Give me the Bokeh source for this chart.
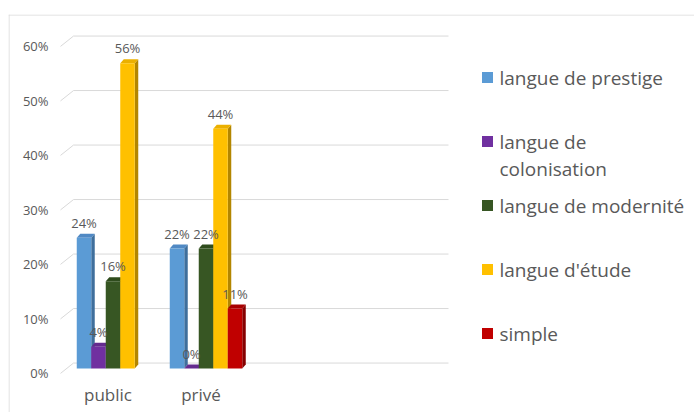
import textwrap
from bokeh.plotting import figure
from bokeh.models import Range1d, Span
from bokeh.core.properties import value
from bokeh.embed import file_html
from bokeh.resources import INLINE

# ---------------- data ----------------
categories = ["public", "privé", "", ""]
series_names = ["langue de prestige", "langue de colonisation",
                "langue de modernité", "langue d'étude", "simple"]
prestige = [24, 22]
colonisation = [4, 0]
modernite = [16, 22]
etude = [56, 44]
simple = [None, 11]
y_ticks = [0, 10, 20, 30, 40, 50, 60]
y_tick_labels = ["0%", "10%", "20%", "30%", "40%", "50%", "60%"]

series_values = [prestige, colonisation, modernite, etude, simple]
front_colors = ["#5B9BD5", "#7030A0", "#375623", "#FFC000", "#C00000"]
side_colors = ["#3F6F9C", "#4E2272", "#243A16", "#B38600", "#860000"]
top_colors = ["#5089C4", "#642B8F", "#2F4C1D", "#EBB000", "#A80000"]

# ---------------- layout constants (pixels -> data) ----------------
PX_X = 93.0     # px per category
PX_Y = 5.45     # px per percent
FONT = value("Open Sans")
TXT = "#595959"
GRID = "#D9D9D9"

def dx(px):
    return px / PX_X

def dy(px):
    return px / PX_Y

p = figure(width=694, height=412,
           x_range=Range1d(-dx(58), dx(628)),
           y_range=Range1d(-dy(44), dy(354)),
           x_axis_location=None, y_axis_location=None,
           toolbar_location=None, output_backend="svg",
           min_border_top=14, min_border_left=8,
           min_border_right=0, min_border_bottom=0)
p.grid.visible = False
p.outline_line_color = None
p.background_fill_color = "white"
p.border_fill_color = "white"

# chart-area border (top and left visible)
p.add_layout(Span(location=dy(353.5), dimension="width", line_color=GRID, line_width=1))
p.add_layout(Span(location=-dx(57.5), dimension="height", line_color=GRID, line_width=1))

# back wall gridlines + perspective stubs
n_cat = len(categories)
back_x0 = dx(7)
back_x1 = n_cat + dx(10)
front_x = -dx(6)
back_off = 1.0
front_off = -0.9
p.segment(x0=[back_x0] * len(y_ticks), y0=[t + back_off for t in y_ticks],
          x1=[back_x1] * len(y_ticks), y1=[t + back_off for t in y_ticks],
          line_color=GRID, line_width=1)
p.segment(x0=[front_x] * len(y_ticks), y0=[t + front_off for t in y_ticks],
          x1=[back_x0] * len(y_ticks), y1=[t + back_off for t in y_ticks],
          line_color=GRID, line_width=1)

# y tick labels
p.text(x=[-dx(18)] * len(y_ticks), y=[t + front_off for t in y_ticks], text=y_tick_labels,
       text_align="right", text_baseline="middle", text_font=FONT,
       text_font_size="13px", text_color=TXT)

# bars (3D look: front face, side face, top face)
slot = dx(14.5)
n_ser = len(series_values)
group_start = 0.5 - n_ser * slot / 2
ddx = dx(3.5)
ddy = dy(4)

lab_x, lab_y, lab_t = [], [], []
for ci in range(n_cat):
    for si, vals in enumerate(series_values):
        if ci >= len(vals) or vals[ci] is None:
            continue
        v = vals[ci]
        l = ci + group_start + si * slot
        r = l + slot
        # side face
        p.patch(x=[r, r + ddx, r + ddx, r], y=[0, ddy, v + ddy, v],
                fill_color=side_colors[si], line_color=None)
        # top face
        p.patch(x=[l, r, r + ddx, l + ddx], y=[v, v, v + ddy, v + ddy],
                fill_color=top_colors[si], line_color=None)
        # front face
        p.quad(left=l, right=r, bottom=0, top=v,
               fill_color=front_colors[si], line_color=None)
        lab_x.append((l + r) / 2)
        lab_y.append(v + dy(15))
        lab_t.append(f"{v:.0f}%")

p.text(x=lab_x, y=lab_y, text=lab_t, text_align="center", text_baseline="middle",
       text_font=FONT, text_font_size="13px", text_color=TXT)

# category labels
cat_x = [i + 0.5 - dx(5) for i in range(n_cat)]
p.text(x=cat_x, y=[-dy(26)] * n_cat, text=categories, text_align="center",
       text_baseline="middle", text_font=FONT, text_font_size="17px", text_color=TXT)

# legend (manual, Excel-like spacing)
leg_sq_x = dx(421)
leg_tx_x = dx(433)
leg_y0 = dy(291)
leg_step = dy(64)
leg_line = dy(27)
sq_x, sq_y = [], []
tx_x, tx_y, tx_t = [], [], []
for si, name in enumerate(series_names):
    yy = leg_y0 - si * leg_step
    sq_x.append(leg_sq_x)
    sq_y.append(yy)
    for li, line in enumerate(textwrap.wrap(name, 20)):
        tx_x.append(leg_tx_x)
        tx_y.append(yy - li * leg_line)
        tx_t.append(line)
p.scatter(x=sq_x, y=sq_y, marker="square", size=11, fill_color=front_colors,
          line_color=None)
p.text(x=tx_x, y=tx_y, text=tx_t, text_align="left", text_baseline="middle",
       text_font=FONT, text_font_size="19px", text_color=TXT)

open("out.html", "w").write(file_html(p, INLINE))
